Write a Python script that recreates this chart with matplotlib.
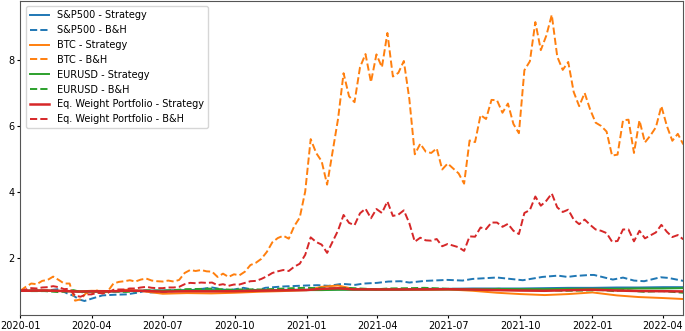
import matplotlib
matplotlib.use("Agg")
import matplotlib.pyplot as plt
import matplotlib.dates as mdates
import pandas as pd
import numpy as np

# Weekly grid for BTC / equal-weight buy & hold
weekly_start = "2020-01-01"
btc_bh = [1.00, 1.12, 1.22, 1.20, 1.30, 1.33, 1.43, 1.33, 1.22, 1.22,
          0.70, 0.74, 0.93, 0.92, 1.01, 0.92, 0.99, 1.22, 1.27, 1.29,
          1.32, 1.28, 1.34, 1.37, 1.31, 1.29, 1.28, 1.31, 1.28, 1.33,
          1.54, 1.63, 1.60, 1.63, 1.59, 1.58, 1.42, 1.52, 1.42, 1.50,
          1.47, 1.58, 1.78, 1.85, 1.97, 2.18, 2.47, 2.60, 2.67, 2.58,
          2.96, 3.22, 4.01, 5.60, 5.18, 4.93, 4.22, 5.22, 6.22, 7.60,
          6.90, 6.72, 7.78, 8.18, 7.33, 8.17, 7.78, 8.82, 7.50, 7.61,
          7.97, 6.82, 5.14, 5.46, 5.22, 5.18, 5.32, 4.68, 4.86, 4.71,
          4.56, 4.25, 5.56, 5.51, 6.33, 6.21, 6.79, 6.78, 6.40, 6.68,
          6.06, 5.78, 7.69, 7.96, 9.15, 8.30, 8.74, 9.37, 8.10, 7.70,
          7.94, 7.03, 6.60, 7.00, 6.50, 6.10, 6.00, 5.83, 5.10, 5.13,
          6.17, 6.19, 5.18, 6.17, 5.50, 5.71, 5.96, 6.60, 6.00, 5.55,
          5.76, 5.44]
eq_bh = [1.00, 1.04, 1.08, 1.07, 1.10, 1.11, 1.14, 1.11, 1.05, 1.06,
         0.85, 0.82, 0.89, 0.89, 0.94, 0.92, 0.94, 1.03, 1.04, 1.04,
         1.07, 1.07, 1.10, 1.12, 1.09, 1.08, 1.08, 1.10, 1.10, 1.12,
         1.20, 1.24, 1.23, 1.25, 1.24, 1.25, 1.17, 1.20, 1.15, 1.19,
         1.19, 1.24, 1.29, 1.30, 1.36, 1.44, 1.54, 1.59, 1.63, 1.60,
         1.73, 1.82, 2.09, 2.62, 2.48, 2.40, 2.15, 2.49, 2.83, 3.30,
         3.06, 2.99, 3.35, 3.49, 3.20, 3.48, 3.36, 3.71, 3.27, 3.31,
         3.44, 3.05, 2.49, 2.61, 2.53, 2.52, 2.57, 2.35, 2.42, 2.37,
         2.32, 2.21, 2.65, 2.64, 2.92, 2.87, 3.07, 3.07, 2.94, 3.03,
         2.82, 2.72, 3.36, 3.45, 3.86, 3.58, 3.73, 3.95, 3.53, 3.39,
         3.46, 3.16, 3.02, 3.16, 3.00, 2.86, 2.82, 2.75, 2.49, 2.51,
         2.86, 2.86, 2.50, 2.82, 2.59, 2.68, 2.77, 3.00, 2.79, 2.63,
         2.69, 2.56]

# S&P500 buy & hold
sp_dates = ["2020-01-01", "2020-01-15", "2020-02-01", "2020-02-19", "2020-03-01",
            "2020-03-09", "2020-03-16", "2020-03-23", "2020-04-01", "2020-04-15",
            "2020-05-01", "2020-05-15", "2020-06-01", "2020-06-08", "2020-06-15",
            "2020-07-01", "2020-07-15", "2020-08-01", "2020-08-15", "2020-09-02",
            "2020-09-23", "2020-10-12", "2020-10-30", "2020-11-09", "2020-12-01",
            "2020-12-31", "2021-01-15", "2021-01-29", "2021-02-15", "2021-03-04",
            "2021-03-15", "2021-04-01", "2021-04-15", "2021-05-01", "2021-05-12",
            "2021-06-01", "2021-06-30", "2021-07-19", "2021-08-01", "2021-08-30",
            "2021-09-02", "2021-09-30", "2021-10-04", "2021-10-29", "2021-11-18",
            "2021-11-30", "2021-12-10", "2021-12-29", "2022-01-03", "2022-01-27",
            "2022-02-09", "2022-02-23", "2022-03-08", "2022-03-29", "2022-04-08",
            "2022-04-27"]
sp_bh = [1.00, 1.02, 1.00, 1.05, 0.92, 0.85, 0.74, 0.69, 0.76, 0.86,
         0.88, 0.89, 0.95, 1.00, 0.95, 0.96, 0.99, 1.01, 1.04, 1.10,
         1.01, 1.09, 1.01, 1.09, 1.13, 1.16, 1.17, 1.15, 1.21, 1.18,
         1.22, 1.24, 1.28, 1.29, 1.25, 1.30, 1.33, 1.31, 1.36, 1.40,
         1.40, 1.33, 1.32, 1.42, 1.46, 1.42, 1.45, 1.48, 1.48, 1.34,
         1.40, 1.31, 1.29, 1.41, 1.39, 1.30]

# EURUSD buy & hold
eur_dates = ["2020-01-01", "2020-01-15", "2020-02-01", "2020-02-19", "2020-03-01",
             "2020-03-09", "2020-03-20", "2020-03-27", "2020-04-15", "2020-05-01",
             "2020-05-15", "2020-06-01", "2020-06-10", "2020-06-30", "2020-07-15",
             "2020-07-31", "2020-08-15", "2020-09-01", "2020-09-25", "2020-10-15",
             "2020-11-04", "2020-11-30", "2020-12-15", "2020-12-31", "2021-01-15",
             "2021-02-01", "2021-02-25", "2021-03-31", "2021-04-15", "2021-05-15",
             "2021-05-31", "2021-06-30", "2021-07-15", "2021-08-20", "2021-09-03",
             "2021-09-30", "2021-10-15", "2021-11-01", "2021-11-24", "2021-12-15",
             "2022-01-13", "2022-01-28", "2022-02-10", "2022-03-07", "2022-03-31",
             "2022-04-14", "2022-04-27"]
eur_bh = [1.00, 0.99, 0.99, 0.96, 0.98, 1.02, 0.955, 0.99, 0.975, 0.975,
          0.965, 0.99, 1.015, 1.00, 1.02, 1.05, 1.055, 1.065, 1.035, 1.045,
          1.04, 1.065, 1.08, 1.09, 1.08, 1.075, 1.085, 1.045, 1.07, 1.08,
          1.09, 1.06, 1.055, 1.04, 1.06, 1.033, 1.035, 1.03, 0.998, 1.005,
          1.02, 0.99, 1.02, 0.97, 0.99, 0.965, 0.94]

# Strategy equity curves
str_dates = ["2020-01-01", "2020-02-01", "2020-03-01", "2020-03-15", "2020-04-01",
             "2020-05-01", "2020-05-15", "2020-06-01", "2020-07-01", "2020-08-01",
             "2020-09-01", "2020-10-01", "2020-11-01", "2020-12-01", "2021-01-01",
             "2021-01-20", "2021-02-10", "2021-03-01", "2021-04-01", "2021-05-01",
             "2021-06-01", "2021-07-01", "2021-08-01", "2021-09-01", "2021-10-01",
             "2021-11-01", "2021-12-01", "2022-01-01", "2022-02-01", "2022-03-01",
             "2022-04-01", "2022-04-27"]
sp_strat = [1.00, 1.01, 0.99, 0.97, 0.97, 0.98, 0.99, 1.00, 1.01, 1.02,
            1.02, 1.01, 1.02, 1.03, 1.03, 1.03, 1.04, 1.04, 1.05, 1.05,
            1.06, 1.06, 1.07, 1.07, 1.07, 1.08, 1.09, 1.09, 1.10, 1.10,
            1.11, 1.11]
btc_strat = [1.00, 1.01, 0.99, 0.98, 1.00, 0.99, 1.03, 1.00, 0.91, 0.93,
             0.92, 0.94, 0.97, 0.99, 1.02, 1.12, 1.16, 1.06, 1.04, 1.04,
             1.03, 1.04, 1.00, 0.94, 0.90, 0.87, 0.90, 0.95, 0.86, 0.81,
             0.78, 0.75]
eur_strat = [1.00, 1.00, 0.99, 0.98, 0.98, 0.99, 0.99, 1.00, 1.00, 1.01,
             1.01, 1.01, 1.02, 1.02, 1.02, 1.02, 1.03, 1.03, 1.03, 1.03,
             1.04, 1.04, 1.04, 1.05, 1.05, 1.05, 1.06, 1.06, 1.06, 1.07,
             1.07, 1.08]
eq_strat = [1.00, 1.007, 0.99, 0.977, 0.983, 0.987, 1.003, 1.00, 0.973, 0.987,
            0.983, 0.987, 1.003, 1.013, 1.023, 1.057, 1.077, 1.043, 1.04, 1.04,
            1.043, 1.047, 1.037, 1.02, 1.007, 1.00, 1.017, 1.033, 1.007, 0.993,
            0.987, 0.98]

labels = ["S&P500 - Strategy", "S&P500 - B&H", "BTC - Strategy", "BTC - B&H",
          "EURUSD - Strategy", "EURUSD - B&H",
          "Eq. Weight Portfolio - Strategy", "Eq. Weight Portfolio - B&H"]

weekly = pd.date_range(weekly_start, periods=len(btc_bh), freq="7D")
sd = pd.to_datetime(str_dates)

plt.rcParams["font.family"] = ["DejaVu Sans"]
fig = plt.figure(figsize=(6.85, 3.31), dpi=100)
ax = fig.add_axes([0.0296, 0.0474, 0.9679, 0.951])

lw = 1.4
ax.plot(sd, sp_strat, color="C0", lw=lw, label=labels[0])
ax.plot(pd.to_datetime(sp_dates), sp_bh, color="C0", lw=lw, ls="--", label=labels[1])
ax.plot(sd, btc_strat, color="C1", lw=lw, label=labels[2])
ax.plot(weekly, btc_bh, color="C1", lw=lw, ls="--", label=labels[3])
ax.plot(sd, eur_strat, color="C2", lw=lw, label=labels[4])
ax.plot(pd.to_datetime(eur_dates), eur_bh, color="C2", lw=lw, ls="--", label=labels[5])
ax.plot(sd, eq_strat, color="C3", lw=1.8, label=labels[6])
ax.plot(weekly, eq_bh, color="C3", lw=lw, ls="--", label=labels[7])

ax.set_xlim(pd.Timestamp("2020-01-01"), pd.Timestamp("2022-04-27"))
ax.margins(y=0.05)
ax.xaxis.set_major_locator(mdates.MonthLocator(bymonth=[1, 4, 7, 10]))
ax.xaxis.set_major_formatter(mdates.DateFormatter("%Y-%m"))
ax.set_yticks([2, 4, 6, 8])
ax.tick_params(labelsize=7, length=2.5, pad=1.5)
for s in ax.spines.values():
    s.set_color("#555555")

ax.legend(loc="upper left", fontsize=7, borderaxespad=0.6)

fig.savefig("out.png", dpi=100)
